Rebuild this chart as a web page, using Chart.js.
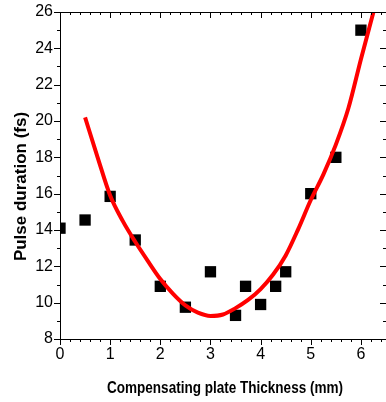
<!DOCTYPE html>
<html>
<head>
<meta charset="utf-8">
<script src="https://cdn.jsdelivr.net/npm/chart.js"></script>
<style>
  html, body { margin: 0; padding: 0; background: #fff; }
</style>
</head>
<body>
<canvas id="grafico" width="386" height="402"></canvas>
<script>
// datos medidos (cuadrados negros)
const grosor = [0, 0.5, 1.0, 1.5, 2.0, 2.5, 3.0, 3.5, 3.7, 4.0, 4.3, 4.5, 5.0, 5.5, 6.0];
const duracion = [14.1, 14.55, 15.85, 13.45, 10.9, 9.75, 11.7, 9.3, 10.9, 9.9, 10.9, 11.7, 16.0, 18.0, 25.0];

// curva de ajuste (roja)
const ajusteX = [0.5, 0.75, 1.0, 1.25, 1.5, 1.75, 2.0, 2.25, 2.5, 2.75, 3.0, 3.25, 3.5, 3.75, 4.0, 4.25, 4.5, 4.75, 5.0, 5.25, 5.5, 5.75, 6.0, 6.25];
const ajusteY = [20.2, 18.0, 15.9, 14.5, 13.35, 12.3, 11.3, 10.5, 9.85, 9.45, 9.27, 9.35, 9.7, 10.15, 10.75, 11.55, 12.6, 14.05, 15.65, 17.05, 18.7, 20.7, 23.4, 26.0];

const ejeX = { min: 0, max: 6.5, paso: 1, menor: 0.2 };
const ejeY = { min: 8, max: 26, paso: 2, menor: 1 };

const tituloX = "Compensating plate Thickness (mm)";
const tituloY = "Pulse duration (fs)";

window.addEventListener("load", () => {
  const ctx = document.getElementById("grafico").getContext("2d");

  // marco y marcas de los ejes (fuera a la izq./abajo, dentro arriba/der.)
  const marco = {
    id: "marco",
    afterDatasetsDraw(chart) {
      const { ctx, chartArea: a, scales: { x, y } } = chart;
      ctx.save();
      ctx.strokeStyle = "#000";
      ctx.lineWidth = 1;
      ctx.beginPath();
      ctx.rect(a.left + 0.5, a.top + 0.5, a.right - a.left, a.bottom - a.top);
      const n = Math.round((ejeX.max - ejeX.min) / ejeX.menor);
      for (let i = 0; i <= n; i++) {
        const v = ejeX.min + i * ejeX.menor;
        const mayor = Math.abs(v / ejeX.paso - Math.round(v / ejeX.paso)) < 1e-6;
        const len = mayor ? 6 : 3;
        const px = Math.round(x.getPixelForValue(v)) + 0.5;
        ctx.moveTo(px, a.bottom); ctx.lineTo(px, a.bottom + len);
        ctx.moveTo(px, a.top); ctx.lineTo(px, a.top + len);
      }
      for (let v = ejeY.min; v <= ejeY.max; v += ejeY.menor) {
        const mayor = v % ejeY.paso === 0;
        const len = mayor ? 6 : 3;
        const py = Math.round(y.getPixelForValue(v)) + 0.5;
        ctx.moveTo(a.left - len, py); ctx.lineTo(a.left, py);
        ctx.moveTo(a.right - len, py); ctx.lineTo(a.right, py);
      }
      ctx.stroke();

      // títulos de los ejes
      ctx.fillStyle = "#000";
      ctx.textAlign = "center";
      ctx.textBaseline = "alphabetic";
      ctx.font = 'bold 17px "Liberation Sans", Arial, sans-serif';
      ctx.fillText(tituloX, 225, 393, 236);
      ctx.translate(26, 186.5);
      ctx.rotate(-Math.PI / 2);
      ctx.fillText(tituloY, 0, 0);
      ctx.restore();
    }
  };

  const fuente = { family: '"Liberation Sans", Arial, sans-serif', size: 16 };

  new Chart(ctx, {
    type: "scatter",
    data: {
      datasets: [
        {
          label: "Ajuste",
          data: ajusteX.map((v, i) => ({ x: v, y: ajusteY[i] })),
          showLine: true,
          borderColor: "#ff0000",
          borderWidth: 4,
          pointRadius: 0,
          cubicInterpolationMode: "monotone",
          clip: 0
        },
        {
          label: "Medidas",
          data: grosor.map((v, i) => ({ x: v, y: duracion[i] })),
          pointStyle: "rect",
          pointRadius: 8,
          backgroundColor: "#000",
          borderColor: "#000",
          borderWidth: 0,
          clip: 0
        }
      ]
    },
    options: {
      responsive: false,
      animation: false,
      events: [],
      layout: { autoPadding: false, padding: { top: 12, right: -1, left: 0, bottom: 0 } },
      plugins: {
        legend: { display: false },
        tooltip: { enabled: false }
      },
      scales: {
        x: {
          type: "linear",
          min: ejeX.min,
          max: ejeX.max,
          grid: { display: false, drawTicks: false },
          border: { display: false },
          ticks: { stepSize: ejeX.paso, includeBounds: false, color: "#000", font: fuente, padding: 6, maxRotation: 0 },
          afterFit(s) { s.height = 63; s.paddingLeft = 0; s.paddingRight = 0; }
        },
        y: {
          min: ejeY.min,
          max: ejeY.max,
          grid: { display: false, drawTicks: false },
          border: { display: false },
          ticks: { stepSize: ejeY.paso, color: "#000", font: fuente, padding: 7 },
          afterFit(s) { s.width = 60; s.paddingTop = 0; s.paddingBottom = 0; }
        }
      }
    },
    plugins: [marco]
  });
});
</script>
</body>
</html>
